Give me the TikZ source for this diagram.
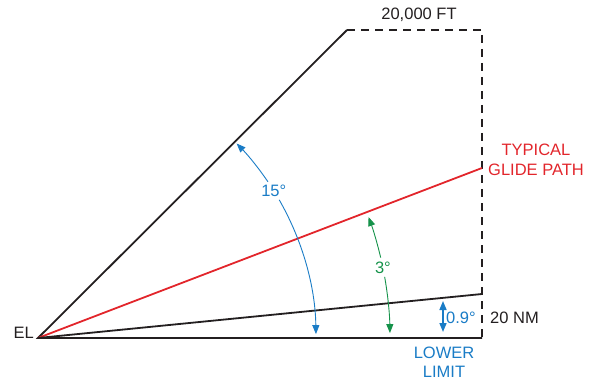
\documentclass[tikz,border=0pt]{standalone}
\usepackage{fontspec}
\setmainfont{Liberation Sans}
\usetikzlibrary{arrows.meta,calc}
\definecolor{cblue}{HTML}{1A7CC6}
\definecolor{cred}{HTML}{E2252B}
\definecolor{cgreen}{HTML}{15924A}
\definecolor{cblack}{HTML}{231F20}
\begin{document}
\begin{tikzpicture}[x=1pt,y=1pt,
  lbl/.style={font=\fontsize{16.5}{19.5}\selectfont, inner sep=0pt, align=center},
  bline/.style={draw=cblack, line width=1.8pt},
  dline/.style={draw=cblack, line width=1.8pt, dash pattern=on 8pt off 6pt},
  tip/.style={-{Triangle[length=9pt,width=7pt]}},
  tips/.style={{Triangle[length=9pt,width=7pt]}-{Triangle[length=9pt,width=7pt]}},
]
\useasboundingbox (0,0) rectangle (595,381);
\coordinate (O) at (38,43);
\coordinate (T) at (347,351);
\coordinate (TR) at (482,351);
\coordinate (B) at (482,43);
\coordinate (G) at (482,213);
\coordinate (L) at (482,87);
% lines
\draw[bline, line join=miter] (B) -- (O) -- (T);
\draw[dline] (T) -- (TR) -- (B);
\draw[draw=cred, line width=1.8pt] (O) -- (G);
\draw[bline] (O) -- (L);
% 15 deg arc
\node[lbl, text=cblue] (a15) at ($(O)+(32:278)$) {15°};
\draw[cblue, line width=0.9pt, {Triangle[length=9pt,width=7pt]}-] ($(O)+(44.4:278)$) arc (44.4:34.2:278);
\draw[cblue, line width=0.9pt, tip] ($(O)+(29.8:278)$) arc (29.8:0.8:278);
% 3 deg arc
\node[lbl, text=cgreen] (a3) at ($(O)+(11.5:352)$) {3°};
\draw[cgreen, line width=0.9pt, {Triangle[length=9pt,width=7pt]}-] ($(O)+(20.1:352)$) arc (20.1:13.2:352);
\draw[cgreen, line width=0.9pt, tip] ($(O)+(10.0:352)$) arc (10.0:0.8:352);
% 0.9 deg
\coordinate (s1) at (443,80);
\coordinate (s2) at (443,49);
\draw[cblue, line width=1.6pt, tips] (s1) -- (s2);
\node[lbl, text=cblue, anchor=west] (a09) at (446,63) {0.9°};
% labels
\node[lbl, text=cblack] (ft) at (419,366) {20,000 FT};
\node[lbl, text=cred] (gp) at (536,221) {TYPICAL\\GLIDE PATH};
\node[lbl, text=cblack, anchor=west] (nm) at (490,63) {20 NM};
\node[lbl, text=cblue] (ll) at (444,19) {LOWER\\LIMIT};
\node[lbl, text=cblack, anchor=east] (el) at (34,48) {EL};
\end{tikzpicture}
\end{document}
